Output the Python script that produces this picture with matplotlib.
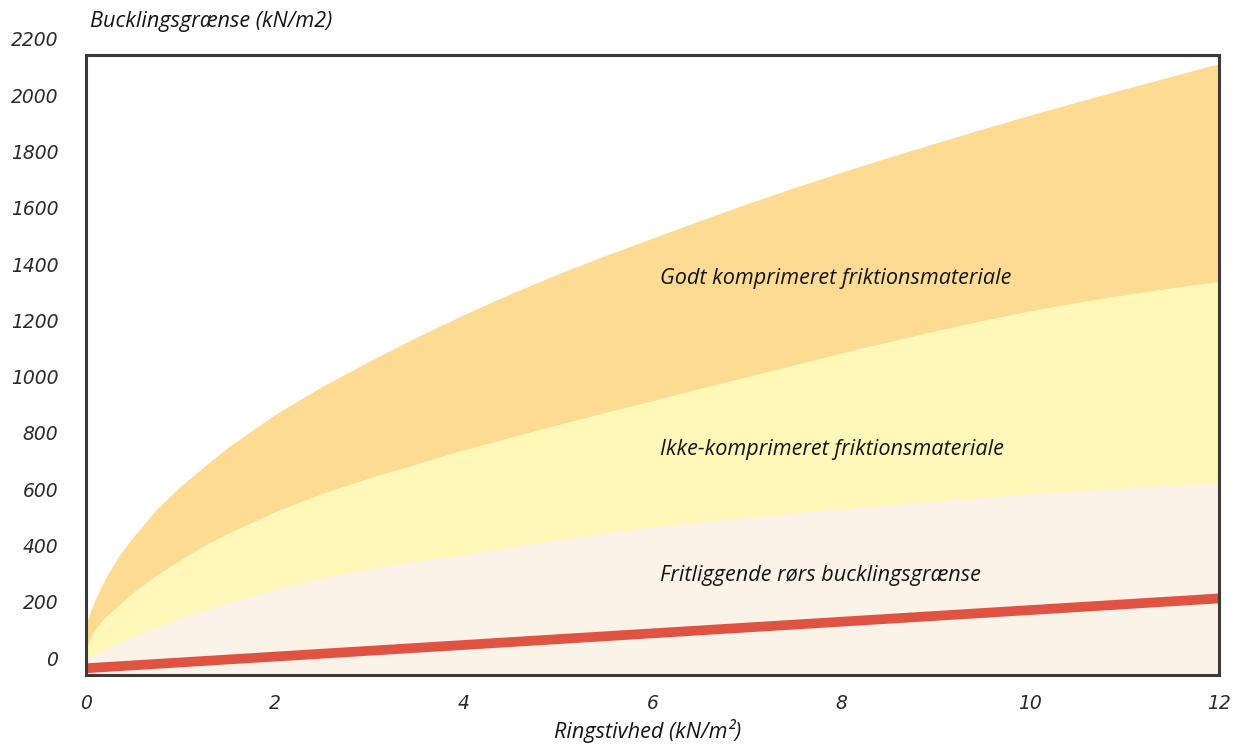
import matplotlib
matplotlib.use("Agg")
import matplotlib.pyplot as plt
from matplotlib.patches import Rectangle
import numpy as np

# Data
ring_stiffness = [0, 0.05, 0.1, 0.2, 0.35, 0.5, 0.75, 1, 1.25, 1.5, 2, 2.5, 3, 3.5,
                  4, 4.5, 5, 5.5, 6, 6.5, 7, 7.5, 8, 8.5, 9, 9.5, 10, 10.5, 11, 11.5, 12]
well_compacted = [120, 170, 210, 280, 365, 430, 530, 610, 680, 748, 865, 965, 1055, 1140,
                  1220, 1295, 1365, 1430, 1492, 1554, 1614, 1671, 1726, 1779, 1830, 1880,
                  1929, 1976, 2022, 2067, 2112]
non_compacted = [30, 75, 105, 145, 190, 235, 295, 350, 400, 443, 520, 585, 640, 690,
                 740, 785, 830, 873, 915, 958, 1000, 1042, 1084, 1124, 1163, 1200,
                 1234, 1264, 1291, 1316, 1338]
free_pipe_zone = [-10, 5, 15, 30, 55, 78, 110, 143, 170, 195, 245, 285, 318, 345,
                  368, 395, 420, 444, 466, 484, 500, 516, 530, 544, 558, 571,
                  584, 595, 605, 614, 623]
red_x = [0, 12]
red_y = [-36, 212]

x_ticks = [0, 2, 4, 6, 8, 10, 12]
y_ticks = [0, 200, 400, 600, 800, 1000, 1200, 1400, 1600, 1800, 2000, 2200]
box_bottom, box_top = -60, 2143

labels = ["Godt komprimeret friktionsmateriale",
          "Ikke-komprimeret friktionsmateriale",
          "Fritliggende rørs bucklingsgrænse"]
label_y = [1350, 742, 293]

c_orange = "#FDDB93"
c_yellow = "#FFF8B9"
c_cream = "#FBF3E8"
c_red = "#E05242"

fig = plt.figure(figsize=(12.48, 7.45), dpi=100)
ax = fig.add_axes([86/1248, 70/745, (1219-86)/1248, (709-70)/745])
ax.set_xlim(0, 12)
ax.set_ylim(box_bottom, 2210)
for s in ax.spines.values():
    s.set_visible(False)

xs = np.array(ring_stiffness)
ax.fill_between(xs, box_bottom, well_compacted, color=c_orange, lw=0)
ax.fill_between(xs, box_bottom, non_compacted, color=c_yellow, lw=0)
ax.fill_between(xs, box_bottom, free_pipe_zone, color=c_cream, lw=0)
ax.plot(red_x, red_y, color=c_red, lw=7, solid_capstyle="butt")

ax.add_patch(Rectangle((0, box_bottom), 12, box_top - box_bottom, fill=False,
                       edgecolor="#3a3a3a", lw=2.2, clip_on=False, zorder=5))

tick_font = dict(family="DejaVu Sans", style="oblique", size=13.5, color="#2a2a2a")
ax.set_xticks(x_ticks)
ax.set_xticklabels([str(v) for v in x_ticks], **tick_font)
ax.set_yticks(y_ticks)
ax.set_yticklabels([str(v) for v in y_ticks], **tick_font)
ax.tick_params(axis="x", length=0, pad=14)
ax.tick_params(axis="y", length=0, pad=20)

txt_font = dict(family="Open Sans", style="italic", size=15.6, color="#151515")
for lab, yv in zip(labels, label_y):
    ax.text(6.08, yv, lab, ha="left", va="center", **txt_font)

fig.text(90/1248, 1 - 21/745, "Bucklingsgrænse (kN/m2)", ha="left", va="center", **txt_font)
fig.text(648/1248, 1 - 731/745, "Ringstivhed (kN/m²)", ha="center", va="center", **txt_font)

fig.savefig("out.png", dpi=100)
